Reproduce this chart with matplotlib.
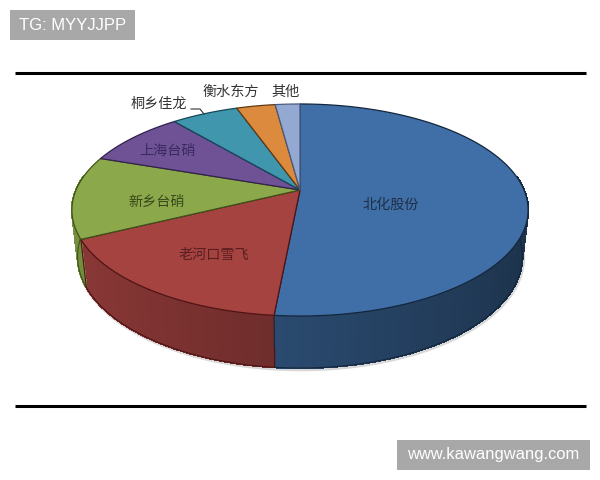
import matplotlib
matplotlib.use('Agg')
import matplotlib.pyplot as plt
from matplotlib.patches import Polygon, Rectangle
import numpy as np

plt.rcParams['font.family'] = ['Noto Sans CJK SC', 'DejaVu Sans']

# shares in percent, clockwise from 12 o'clock
names = ['北化股份', '老河口雪飞', '新乡台硝', '上海台硝', '桐乡佳龙', '衡水东方', '其他']
shares = [51.5, 16.2, 12.6, 8.6, 5.7, 3.3, 2.1]

top_colors = ['#3f6fa6', '#a54341', '#8ba84b', '#6f5295', '#3f96ad', '#dc8a3d', '#94a9d2']
edge_colors = ['#14263c', '#4f1413', '#3f5218', '#33214f', '#17475a', '#5f3a12', '#4a5a80']
text_colors = ['#1f3047', '#5a1e1e', '#39491c', '#3a2a60', '#333333', '#333333', '#333333']
label_xy = [(391, 205), (214, 255), (157, 202), (168, 151), (159, 104), (231, 92), (285, 92)]

# perspective of the pie top, in image pixels
CX, CY = 300, 190
R = 224
A, K = -66.4, 0.1887


def top_rim(theta):
    u, v = np.sin(theta), np.cos(theta)
    w = 1 + K * v
    return CX + R * u / w, (CY + A * v) / w


def bottom_rim(theta):
    x, y = top_rim(theta)
    return CX + (x - CX) * 0.975, 288 + (y - 240) * 1.053


def darker(color, f):
    rgb = np.array(matplotlib.colors.to_rgb(color))
    return tuple(rgb * f)


fig = plt.figure(figsize=(6, 4.8), dpi=100)
ax = fig.add_axes([0, 0, 1, 1])
ax.set_xlim(0, 600)
ax.set_ylim(480, 0)
ax.axis('off')

edges = np.concatenate([[0], np.cumsum(shares)]) / np.sum(shares) * 2 * np.pi

# faint shadow under the wall
t = np.linspace(np.pi * 0.42, np.pi * 1.58, 200)
xs, ys = bottom_rim(t)
ax.plot(xs + 1, ys + 1.5, color='#d8d8d8', lw=2.5, zorder=0.5)

# side wall, split into thin strips so it can be shaded
for i in range(len(shares)):
    t = np.linspace(edges[i], edges[i + 1], 120)
    t = t[np.cos(t) < 0.15]
    if len(t) < 2:
        continue
    for a, b in zip(t[:-1], t[1:]):
        f = 0.65 - 0.2 * np.sin(0.5 * (a + b))
        pts = [top_rim(a), top_rim(b), bottom_rim(b), bottom_rim(a)]
        c = darker(top_colors[i], f)
        ax.add_patch(Polygon(pts, closed=True, facecolor=c, edgecolor=c, lw=0.8,
                             antialiased=False, zorder=1))
    xs, ys = bottom_rim(t)
    ax.plot(xs, ys, color=edge_colors[i], lw=0.8, zorder=1.5)

# wall seams at the slice borders that face the viewer
for e, c in zip(edges[1:], edge_colors):
    if np.cos(e) < 0:
        xa, ya = top_rim(e)
        xb, yb = bottom_rim(e)
        ax.plot([xa, xb], [ya, yb], color=c, lw=0.8, zorder=1.5)

# top face
for i in range(len(shares)):
    t = np.linspace(edges[i], edges[i + 1], 160)
    xs, ys = top_rim(t)
    pts = np.column_stack([np.r_[CX, xs], np.r_[CY, ys]])
    ax.add_patch(Polygon(pts, closed=True, facecolor=top_colors[i],
                         edgecolor=edge_colors[i], lw=0.9, joinstyle='round', zorder=2))

for name, (x, y), c in zip(names, label_xy, text_colors):
    ax.text(x, y, name, color=c, fontsize=10.2, ha='center', va='center', zorder=4)

# leader for the small slice label
ax.plot([191, 200, 204], [109, 109, 114], color='#333333', lw=0.8, zorder=3)

# rules
ax.plot([15, 586], [73, 73], color='black', lw=2.2, solid_capstyle='butt')
ax.plot([15, 586], [406, 406], color='black', lw=2.2, solid_capstyle='butt')

# watermarks
ax.add_patch(Rectangle((10, 10), 125, 30, facecolor='#a8a8a8', edgecolor='none'))
ax.text(72.5, 25.5, 'TG: MYYJJPP', color='white', fontsize=12, ha='center', va='center',
        family='Liberation Sans')
ax.add_patch(Rectangle((397, 440), 193, 30, facecolor='#a8a8a8', edgecolor='none'))
ax.text(493.5, 455, 'www.kawangwang.com', color='white', fontsize=11.9, ha='center', va='center',
        family='Liberation Sans')

fig.savefig('out.png', dpi=100)
